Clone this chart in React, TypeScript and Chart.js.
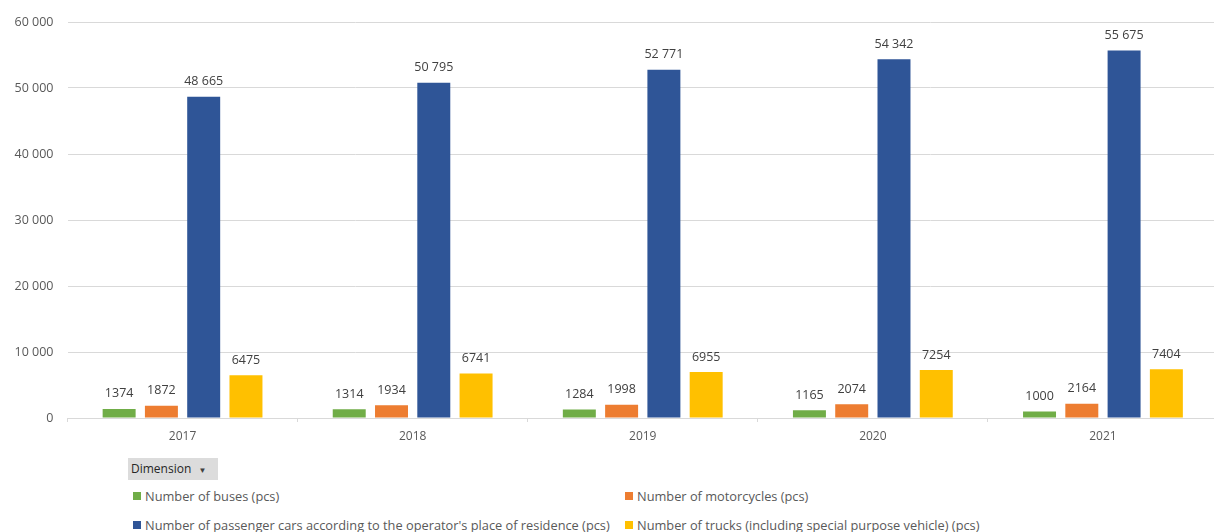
import React, { useEffect, useRef } from "react";
import { Chart, registerables } from "chart.js";

Chart.register(...registerables);

const years = ["2017", "2018", "2019", "2020", "2021"];
const buses = [1374, 1314, 1284, 1165, 1000];
const motorcycles = [1872, 1934, 1998, 2074, 2164];
const passengerCars = [48665, 50795, 52771, 54342, 55675];
const trucks = [6475, 6741, 6955, 7254, 7404];

const seriesNames = [
  "Number of buses (pcs)",
  "Number of motorcycles (pcs)",
  "Number of passenger cars according to the operator's place of residence (pcs)",
  "Number of trucks (including special purpose vehicle) (pcs)",
];
const seriesColors = ["#70ad47", "#ed7d31", "#2f5597", "#ffc000"];

const FONT = "'Open Sans', 'Liberation Sans', Arial, sans-serif";
const TEXT = "#595959";

// Thousands separated by a space, only from five digits up
function fmt(v: number): string {
  const s = String(Math.round(v));
  if (Math.abs(v) < 10000) return s;
  return s.replace(/\B(?=(\d{3})+(?!\d))/g, " ");
}

const valueLabels = {
  id: "valueLabels",
  afterDatasetsDraw(chart: any) {
    const ctx = chart.ctx;
    ctx.save();
    ctx.font = `12.5px ${FONT}`;
    ctx.fillStyle = "#404040";
    ctx.textAlign = "center";
    ctx.textBaseline = "middle";
    chart.data.datasets.forEach((ds: any, i: number) => {
      const meta = chart.getDatasetMeta(i);
      meta.data.forEach((bar: any, j: number) => {
        ctx.fillText(fmt(ds.data[j]), bar.x, bar.y - 15);
      });
    });
    ctx.restore();
  },
};

export default function App() {
  const ref = useRef<HTMLCanvasElement>(null);

  useEffect(() => {
    if (!ref.current) return;
    const chart = new Chart(ref.current, {
      type: "bar",
      data: {
        labels: years,
        datasets: [buses, motorcycles, passengerCars, trucks].map((d, i) => ({
          label: seriesNames[i],
          data: d,
          backgroundColor: seriesColors[i],
          barPercentage: 0.78,
          categoryPercentage: 0.735,
        })),
      },
      options: {
        animation: false,
        responsive: false,
        maintainAspectRatio: false,
        layout: { padding: { top: 22, left: 0, right: 0, bottom: 0 } },
        plugins: {
          legend: { display: false },
          tooltip: { enabled: false },
        },
        scales: {
          x: {
            grid: {
              display: true,
              drawOnChartArea: false,
              drawTicks: true,
              tickLength: 4,
              color: "#d9d9d9",
            },
            border: { display: true, color: "#d9d9d9" },
            ticks: {
              color: TEXT,
              font: { family: FONT, size: 12 },
              padding: 7,
            },
            afterFit(scale: any) {
              scale.height = 32;
            },
          },
          y: {
            min: 0,
            max: 60000,
            grid: { color: "#d9d9d9", drawTicks: false },
            border: { display: false },
            ticks: {
              stepSize: 10000,
              color: TEXT,
              font: { family: FONT, size: 12.5 },
              padding: 14,
              callback: (v: any) => fmt(Number(v)),
            },
            afterFit(scale: any) {
              scale.width = 67.5;
            },
          },
        },
      },
      plugins: [valueLabels],
    });
    return () => chart.destroy();
  }, []);

  const legendItem = (i: number) => (
    <span style={{ display: "inline-flex", alignItems: "center", whiteSpace: "nowrap" }}>
      <span
        style={{
          display: "inline-block",
          width: 8,
          height: 8,
          background: seriesColors[i],
          marginRight: 4,
        }}
      />
      {seriesNames[i]}
    </span>
  );

  const rowStyle = {
    position: "absolute" as const,
    fontSize: 12.8,
    color: TEXT,
    lineHeight: "16px",
  };

  return (
    <div
      style={{
        position: "fixed",
        left: 0,
        top: 0,
        width: 1214,
        height: 532,
        overflow: "hidden",
        background: "#ffffff",
        fontFamily: FONT,
      }}
    >
      <canvas ref={ref} width={1218} height={450} style={{ display: "block" }} />
      <div
        style={{
          position: "absolute",
          left: 128,
          top: 458,
          width: 90,
          height: 22,
          background: "#dcdcdc",
          color: "#262626",
          fontSize: 12,
          lineHeight: "22px",
          paddingLeft: 3,
          boxSizing: "border-box",
        }}
      >
        Dimension <span style={{ fontSize: 8, marginLeft: 4, color: "#404040" }}>▼</span>
      </div>
      <div style={{ ...rowStyle, left: 133, top: 487 }}>{legendItem(0)}</div>
      <div style={{ ...rowStyle, left: 625, top: 487 }}>{legendItem(1)}</div>
      <div style={{ ...rowStyle, left: 133, top: 516 }}>{legendItem(2)}</div>
      <div style={{ ...rowStyle, left: 625, top: 516 }}>{legendItem(3)}</div>
    </div>
  );
}
